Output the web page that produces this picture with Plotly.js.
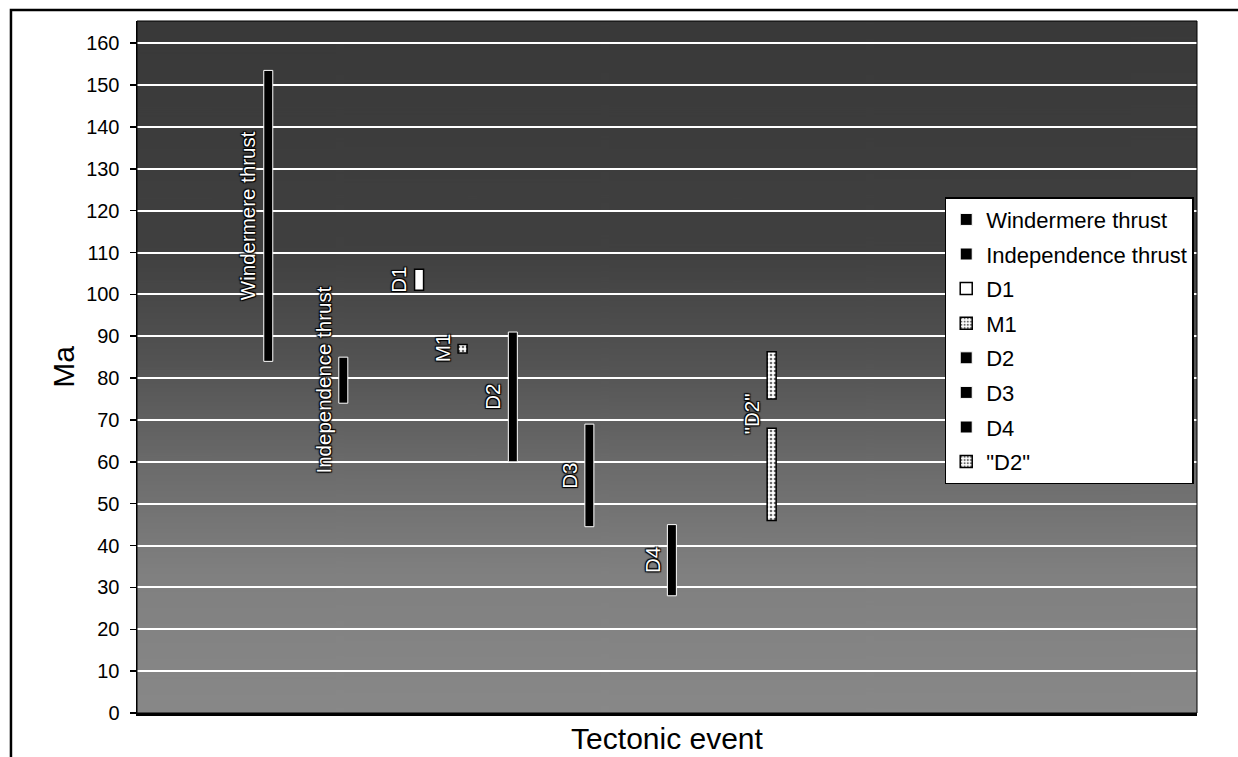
<!DOCTYPE html>
<html><head><meta charset="utf-8">
<script src="https://cdn.plot.ly/plotly-3.0.1.min.js"></script>
<style>html,body{margin:0;padding:0;background:#fff}#chart{width:1238px;height:757px}</style>
</head><body><div id="chart"></div>
<script>
// ---- data ----
const seriesNames = ["Windermere thrust", "Independence thrust", "D1", "M1", "D2", "D3", "D4", "\"D2\""];
const eventPos    = [1.75, 2.75, 3.76, 4.34, 5.01, 6.03, 7.13, 8.46];   // position along "Tectonic event"
const ageFrom     = [[84], [74], [101], [86], [60], [44.5], [28], [46, 75]];      // Ma, lower end of each range
const ageTo       = [[153.5], [85], [106], [88], [91], [69], [45], [68, 86.3]];  // Ma, upper end of each range
const labelText   = ["Windermere thrust", "Independence thrust", "D1", "M1", "D2", "D3", "D4", "\"D2\""];
const yTicks      = [0, 10, 20, 30, 40, 50, 60, 70, 80, 90, 100, 110, 120, 130, 140, 150, 160];

// ---- styles ----
const FONT = "Liberation Sans, Arial, sans-serif";
const fillStyle = ["solid", "solid", "white", "pattern", "solid", "solid", "solid", "pattern"];

function makeBg() {
  const c = document.createElement("canvas");
  c.width = 8; c.height = 700;
  const g = c.getContext("2d");
  const gr = g.createLinearGradient(0, 0, 0, 700);
  gr.addColorStop(0.0, "#393939");
  gr.addColorStop(0.33, "#404040");
  gr.addColorStop(0.5, "#545454");
  gr.addColorStop(0.65, "#6c6c6c");
  gr.addColorStop(0.8, "#808080");
  gr.addColorStop(1.0, "#888888");
  g.fillStyle = gr; g.fillRect(0, 0, 8, 700);
  return c.toDataURL("image/png");
}

const traces = seriesNames.map((name, i) => {
  const n = ageFrom[i].length;
  const xs = [], ys = [], bs = [];
  for (let k = 0; k < n; k++) {
    xs.push(eventPos[i]);
    bs.push(ageFrom[i][k]);
    ys.push(ageTo[i][k] - ageFrom[i][k]);
  }
  const marker = {};
  if (fillStyle[i] === "solid") {
    marker.color = "#000000";
    marker.line = {color: "#ffffff", width: 1};
  } else if (fillStyle[i] === "white") {
    marker.color = "#ffffff";
    marker.line = {color: "#000000", width: 1.5};
  } else {
    marker.color = "#ffffff";
    marker.pattern = {shape: ".", fgcolor: "#6a6a6a", bgcolor: "#ffffff", size: 4, solidity: 0.35};
    marker.line = {color: "#000000", width: 1.5};
  }
  return {
    type: "bar", name: name, x: xs, y: ys, base: bs, width: 0.12,
    marker: marker, legendgroup: "g" + i, hoverinfo: "name+y"
  };
});

const annotations = labelText.map((t, i) => {
  const f = ageFrom[i], to = ageTo[i];
  const yMid = f.length > 1 ? (to[0] + f[1]) / 2 : (f[0] + to[0]) / 2;
  return {
    x: eventPos[i], y: yMid, xref: "x", yref: "y", text: t, showarrow: false,
    textangle: -90, xanchor: "center", yanchor: "middle", xshift: -20,
    font: {family: FONT, size: 20.5, color: "#ffffff",
           shadow: "1px 1px 1px #000, -1px -1px 1px #000, 1px -1px 1px #000, -1px 1px 1px #000"}
  };
});

const layout = {
  width: 1238, height: 757,
  margin: {l: 137, r: 41, t: 21, b: 44},
  paper_bgcolor: "#ffffff",
  plot_bgcolor: "#555555",
  barmode: "overlay",
  font: {family: FONT, color: "#000000"},
  xaxis: {
    range: [0, 14.13], showticklabels: false, ticks: "", showgrid: false, zeroline: false,
    showline: true, linecolor: "#000000", linewidth: 3,
    title: {text: "Tectonic event", font: {family: FONT, size: 30, color: "#000"}, standoff: 13}
  },
  yaxis: {
    range: [0, 165.3], tickmode: "array", tickvals: yTicks, ticktext: yTicks.map(String),
    showgrid: true, gridcolor: "#ffffff", gridwidth: 2, zeroline: false,
    ticks: "outside", ticklen: 6, tickwidth: 1.5, tickcolor: "#000000",
    showline: true, linecolor: "#000000", linewidth: 1.5,
    tickfont: {family: FONT, size: 20, color: "#000000"}, ticklabelstandoff: 6,
    title: {text: "Ma", font: {family: FONT, size: 30, color: "#000"}, standoff: 2}
  },
  legend: {
    x: 0.762, y: 0.7455, xanchor: "left", yanchor: "top",
    bgcolor: "#ffffff", bordercolor: "#000000", borderwidth: 1.5,
    font: {family: FONT, size: 22, color: "#000000"},
    traceorder: "grouped", tracegroupgap: 3
  },
  images: [{
    source: makeBg(), xref: "paper", yref: "paper", x: 0, y: 1, sizex: 1, sizey: 1,
    xanchor: "left", yanchor: "top", sizing: "stretch", layer: "below"
  }],
  shapes: [
    {type: "rect", xref: "paper", yref: "paper", x0: 0, y0: 0, x1: 1, y1: 1,
     line: {color: "#000000", width: 1}},
    {type: "rect", xref: "paper", yref: "paper", x0: -0.1189, y0: -0.2, x1: 1.2, y1: 1.0159,
     line: {color: "#000000", width: 2.5}}
  ],
  annotations: annotations,
  showlegend: true
};

Plotly.newPlot("chart", traces, layout, {displayModeBar: false, staticPlot: true});
</script>
</body></html>
